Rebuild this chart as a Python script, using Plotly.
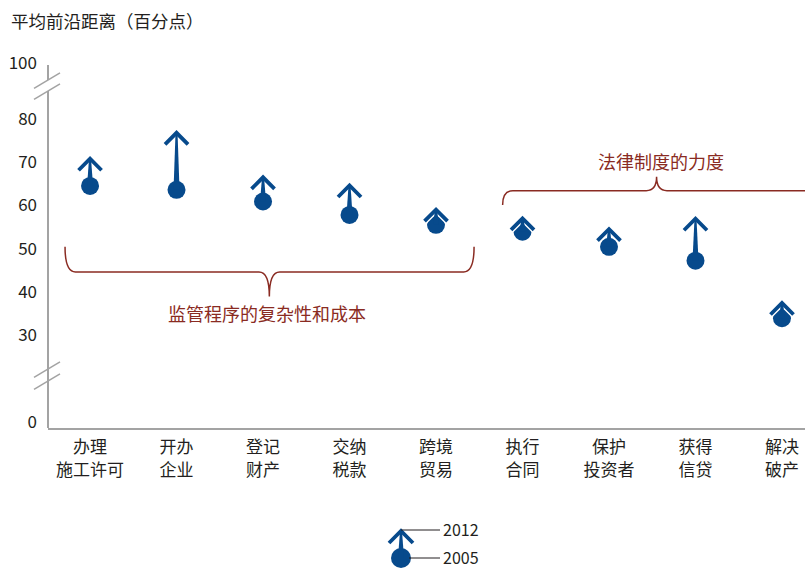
import plotly.graph_objects as go

# ---------------- data ----------------
categories = ["办理<br>施工许可", "开办<br>企业", "登记<br>财产", "交纳<br>税款", "跨境<br>贸易",
              "执行<br>合同", "保护<br>投资者", "获得<br>信贷", "解决<br>破产"]
values_2005 = [64.5, 63.6, 60.9, 57.8, 55.5, 53.9, 50.4, 47.2, 33.9]
values_2012 = [70.8, 76.8, 66.5, 64.6, 59.0, 57.0, 54.5, 56.9, 37.4]
y_ticks = [0, 30, 40, 50, 60, 70, 80, 100]
group_labels = ["监管程序的复杂性和成本", "法律制度的力度"]
legend_labels = ["2012", "2005"]

BLUE = "#074a8c"
BROWN = "#8a2b22"
GREY = "#a3a3a3"
TXT = "#231f20"
CJK = "Noto Sans CJK SC"

# broken axis: linear between 30 and 80, compressed outside
def f(v):
    if v < 30:
        return 30 - (30 - v) * 20.14 / 30
    if v > 80:
        return 80 + (v - 80) * 12.96 / 20
    return v

# layout geometry (pixels)
W, H = 805, 568
L, T, B = 48, 55, 428
YR = [8.47, 94.81]
XR = [-0.486, 8.266]

def px(x):
    return (x - L) / (W - L)

def py(y):
    return (B - y) / (B - T)

X_UNIT = (W - L) / (XR[1] - XR[0])   # px per category
Y_UNIT = (B - T) / (YR[1] - YR[0])   # px per display unit

fig = go.Figure()
xs = list(range(len(categories)))
d05 = [f(v) for v in values_2005]
d12 = [f(v) for v in values_2012]

# dots (2005)
fig.add_trace(go.Scatter(x=xs, y=d05, mode="markers",
                         marker=dict(size=18, color=BLUE, line=dict(width=0)),
                         hoverinfo="skip", showlegend=False))

hw = 11.5 / X_UNIT
hh = 11.5 / Y_UNIT
# white halo chevrons
for x, t in zip(xs, d12):
    fig.add_trace(go.Scatter(x=[x - hw, x, x + hw], y=[t - hh, t, t - hh], mode="lines",
                             line=dict(color="white", width=6.5), hoverinfo="skip", showlegend=False))
# tapered shafts
for x, b, t in zip(xs, d05, d12):
    wb = 3.0 / X_UNIT
    wt = 1.0 / X_UNIT
    fig.add_trace(go.Scatter(x=[x - wb, x - wt, x + wt, x + wb, x - wb], y=[b, t, t, b, b],
                             mode="lines", fill="toself", fillcolor=BLUE,
                             line=dict(width=0, color=BLUE), hoverinfo="skip", showlegend=False))
# chevrons (2012)
for x, t in zip(xs, d12):
    fig.add_trace(go.Scatter(x=[x - hw, x, x + hw], y=[t - hh, t, t - hh], mode="lines",
                             line=dict(color=BLUE, width=3.8), hoverinfo="skip", showlegend=False))

shapes = []
# y axis line with breaks
def yd(pix):
    return 30 + (335 - pix) / 4.32
for a, b in [(YR[0], yd(369)), (yd(381), yd(91)), (yd(80), yd(65))]:
    shapes.append(dict(type="line", xref="paper", yref="y", x0=0, x1=0, y0=a, y1=b,
                       line=dict(color=GREY, width=2)))
for yc in [369, 381, 80, 91]:
    shapes.append(dict(type="line", xref="paper", yref="paper",
                       x0=px(34), y0=py(yc + 8.4), x1=px(60), y1=py(yc - 7.2),
                       line=dict(color=GREY, width=1.5)))

# braces (data coords)
def brace(x0, x1, xc, yend, yh, ycusp, dx=0.12):
    return (f"M {x0},{yend} Q {x0},{yh} {x0+dx},{yh} L {xc-dx},{yh} Q {xc},{yh} {xc},{ycusp} "
            f"Q {xc},{yh} {xc+dx},{yh} L {x1-dx},{yh} Q {x1},{yh} {x1},{yend}")

shapes.append(dict(type="path", xref="x", yref="y",
                   path=brace(-0.289, 4.44, 2.073, 50.4, 44.6, 38.9),
                   line=dict(color=BROWN, width=1.5)))
shapes.append(dict(type="path", xref="x", yref="y",
                   path=brace(4.77, 8.5, 6.55, 60.1, 63.4, 66.6),
                   line=dict(color=BROWN, width=1.5)))

# legend glyphs (pixel positions)
lx = 401
shapes.append(dict(type="circle", xref="paper", yref="paper",
                   x0=px(lx - 10), x1=px(lx + 10), y0=py(568), y1=py(548),
                   fillcolor=BLUE, line=dict(width=0)))
shapes.append(dict(type="path", xref="paper", yref="paper",
                   path=f"M {px(lx-3)},{py(558)} L {px(lx-1)},{py(531)} L {px(lx+1)},{py(531)} L {px(lx+3)},{py(558)} Z",
                   fillcolor=BLUE, line=dict(width=0)))
shapes.append(dict(type="path", xref="paper", yref="paper",
                   path=f"M {px(lx-12)},{py(543)} L {px(lx)},{py(531)} L {px(lx+12)},{py(543)}",
                   line=dict(color=BLUE, width=3.8)))
shapes.append(dict(type="line", xref="paper", yref="paper",
                   x0=px(lx), x1=px(440), y0=py(530), y1=py(530), line=dict(color=TXT, width=1)))
shapes.append(dict(type="line", xref="paper", yref="paper",
                   x0=px(lx + 8), x1=px(440), y0=py(558), y1=py(558), line=dict(color=TXT, width=1)))

annotations = [
    dict(text="平均前沿距离（百分点）", xref="paper", yref="paper", x=px(9), y=py(21),
         xanchor="left", yanchor="middle", showarrow=False, font=dict(family=CJK, size=17.5, color=TXT)),
    dict(text=group_labels[0], xref="x", yref="y", x=2.05, y=yd(313),
         xanchor="center", yanchor="middle", showarrow=False, font=dict(family=CJK, size=18, color=BROWN)),
    dict(text=group_labels[1], xref="x", yref="y", x=6.6, y=yd(161),
         xanchor="center", yanchor="middle", showarrow=False, font=dict(family=CJK, size=18, color=BROWN)),
    dict(text=legend_labels[0], xref="paper", yref="paper", x=px(441), y=py(529),
         xanchor="left", yanchor="middle", showarrow=False, font=dict(family=CJK, size=16, color=TXT)),
    dict(text=legend_labels[1], xref="paper", yref="paper", x=px(441), y=py(557),
         xanchor="left", yanchor="middle", showarrow=False, font=dict(family=CJK, size=16, color=TXT)),
]

fig.update_layout(
    width=W, height=H,
    margin=dict(l=L, r=0, t=T, b=H - B),
    paper_bgcolor="white", plot_bgcolor="white",
    showlegend=False,
    shapes=shapes, annotations=annotations,
    xaxis=dict(range=XR, tickvals=xs, ticktext=categories, showgrid=False, zeroline=False,
               showline=True, linecolor=GREY, linewidth=2, ticks="",
               ticklabelstandoff=3,
               tickfont=dict(family=CJK, size=17, color=TXT), fixedrange=True),
    yaxis=dict(range=YR, tickvals=[f(v) for v in y_ticks], ticktext=[str(v) for v in y_ticks],
               showgrid=False, zeroline=False, showline=False, ticks="",
               ticklabelstandoff=10,
               tickfont=dict(family=CJK, size=17, color=TXT), fixedrange=True),
)

fig.write_html("out.html", config={"displayModeBar": False},
               post_script="document.body.style.margin='0px';document.body.style.overflow='hidden';")
